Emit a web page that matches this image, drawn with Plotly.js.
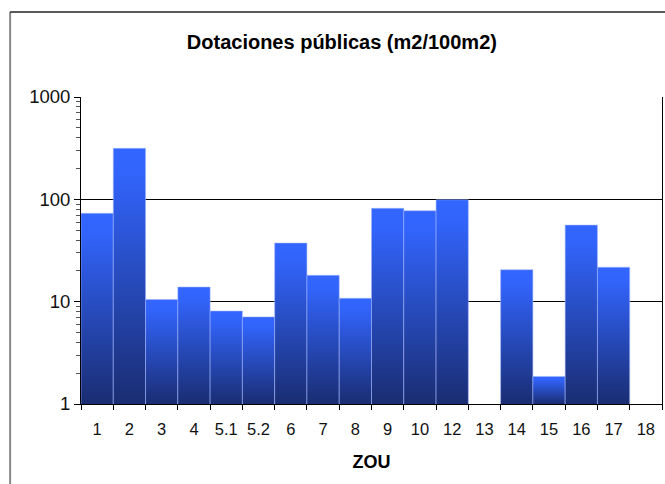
<!DOCTYPE html>
<html>
<head>
<meta charset="utf-8">
<script src="https://cdn.plot.ly/plotly-3.0.1.min.js"></script>
<style>
html,body{margin:0;padding:0;background:#fff;}
#chart{width:665px;height:484px;}
</style>
</head>
<body>
<div id="chart"></div>
<script>
const categories = ["1","2","3","4","5.1","5.2","6","7","8","9","10","12","13","14","15","16","17","18"];
const values = [73, 315, 10.5, 13.9, 8.1, 7.1, 37.4, 18.1, 10.8, 81.7, 77.4, 99, null, 20.5, 1.86, 56, 21.7, null];
const yTicks = [1, 10, 100, 1000];
const yMinorTicks = [2,3,4,5,6,7,8,9,20,30,40,50,60,70,80,90,200,300,400,500,600,700,800,900];
const chartTitle = "Dotaciones públicas (m2/100m2)";
const xTitle = "ZOU";

const trace = {
  type: "bar", x: categories, y: values,
  marker: {color: "#2a4fd0", line: {color: "rgba(160,180,255,0.7)", width: 0.8}},
  hoverinfo: "x+y"
};
const minorHolder = {type: "scatter", mode: "none", x: [categories[0]], y: [1], yaxis: "y2", hoverinfo: "skip", showlegend: false};

const layout = {
  width: 665, height: 484,
  margin: {l: 81, r: 3, t: 97, b: 80},
  paper_bgcolor: "#fff", plot_bgcolor: "#fff",
  font: {family: "Liberation Sans, Arial, sans-serif", color: "#111"},
  bargap: 0, showlegend: false,
  title: {text: "<b>" + chartTitle + "</b>", x: 0.449, xref: "paper", xanchor: "center", y: 0.913, yanchor: "middle", font: {size: 20, color: "#000"}},
  xaxis: {
    type: "category", categoryorder: "array", categoryarray: categories,
    range: [-0.5, categories.length - 0.5],
    tickson: "boundaries", ticks: "outside", ticklen: 5, tickcolor: "#000",
    ticklabelstandoff: 10, tickangle: 0,
    showline: true, linecolor: "#000", linewidth: 1, showgrid: false,
    tickfont: {size: 16.5, color: "#111"},
    title: {text: "<b>" + xTitle + "</b>", font: {size: 18, color: "#000"}, standoff: 18},
    fixedrange: true
  },
  yaxis: {
    type: "log", range: [0, 3], tickvals: yTicks, ticktext: yTicks.map(String),
    ticks: "outside", ticklen: 6, tickcolor: "#000",
    showline: true, linecolor: "#000", linewidth: 1, mirror: true,
    showgrid: true, gridcolor: "#000", gridwidth: 1, zeroline: false,
    tickfont: {size: 18.5, color: "#111"}, fixedrange: true
  },
  yaxis2: {
    type: "log", range: [0, 3], overlaying: "y", side: "left",
    tickvals: yMinorTicks, showticklabels: false,
    ticks: "outside", ticklen: 4, tickcolor: "#555",
    showline: false, showgrid: false, zeroline: false, fixedrange: true
  },
  shapes: [
    {type: "line", xref: "paper", yref: "paper", x0: -0.122, x1: -0.122, y0: -0.3, y1: 1.277, line: {color: "#888", width: 2}},
    {type: "line", xref: "paper", yref: "paper", x0: -0.122, x1: 1.01, y0: 1.277, y1: 1.277, line: {color: "#222", width: 1.5}}
  ]
};

function applyGradient(gd) {
  const ns = "http://www.w3.org/2000/svg";
  const svg = gd.querySelector("svg.main-svg");
  let defs = svg.querySelector("#barGradDefs");
  if (!defs) {
    defs = document.createElementNS(ns, "defs");
    defs.setAttribute("id", "barGradDefs");
    svg.insertBefore(defs, svg.firstChild);
  }
  const bottom = gd._fullLayout.yaxis._length;
  gd.querySelectorAll("g.point path").forEach(function (p, i) {
    const bb = p.getBBox();
    if (!bb || bb.height <= 0) return;
    const id = "barGrad" + i;
    const old = defs.querySelector("#" + id);
    if (old) old.remove();
    const grad = document.createElementNS(ns, "linearGradient");
    grad.setAttribute("id", id);
    grad.setAttribute("gradientUnits", "userSpaceOnUse");
    grad.setAttribute("x1", 0); grad.setAttribute("x2", 0);
    grad.setAttribute("y1", bb.y); grad.setAttribute("y2", bottom);
    [["0", "#3366ff"], ["0.1", "#3264fb"], ["1", "#1a2d72"]].forEach(function (s) {
      const st = document.createElementNS(ns, "stop");
      st.setAttribute("offset", s[0]); st.setAttribute("stop-color", s[1]);
      grad.appendChild(st);
    });
    defs.appendChild(grad);
    p.style.setProperty("fill", "url(#" + id + ")", "important");
  });
}

Plotly.newPlot("chart", [trace, minorHolder], layout, {displayModeBar: false, staticPlot: true}).then(function (gd) {
  applyGradient(gd);
});
</script>
</body>
</html>
